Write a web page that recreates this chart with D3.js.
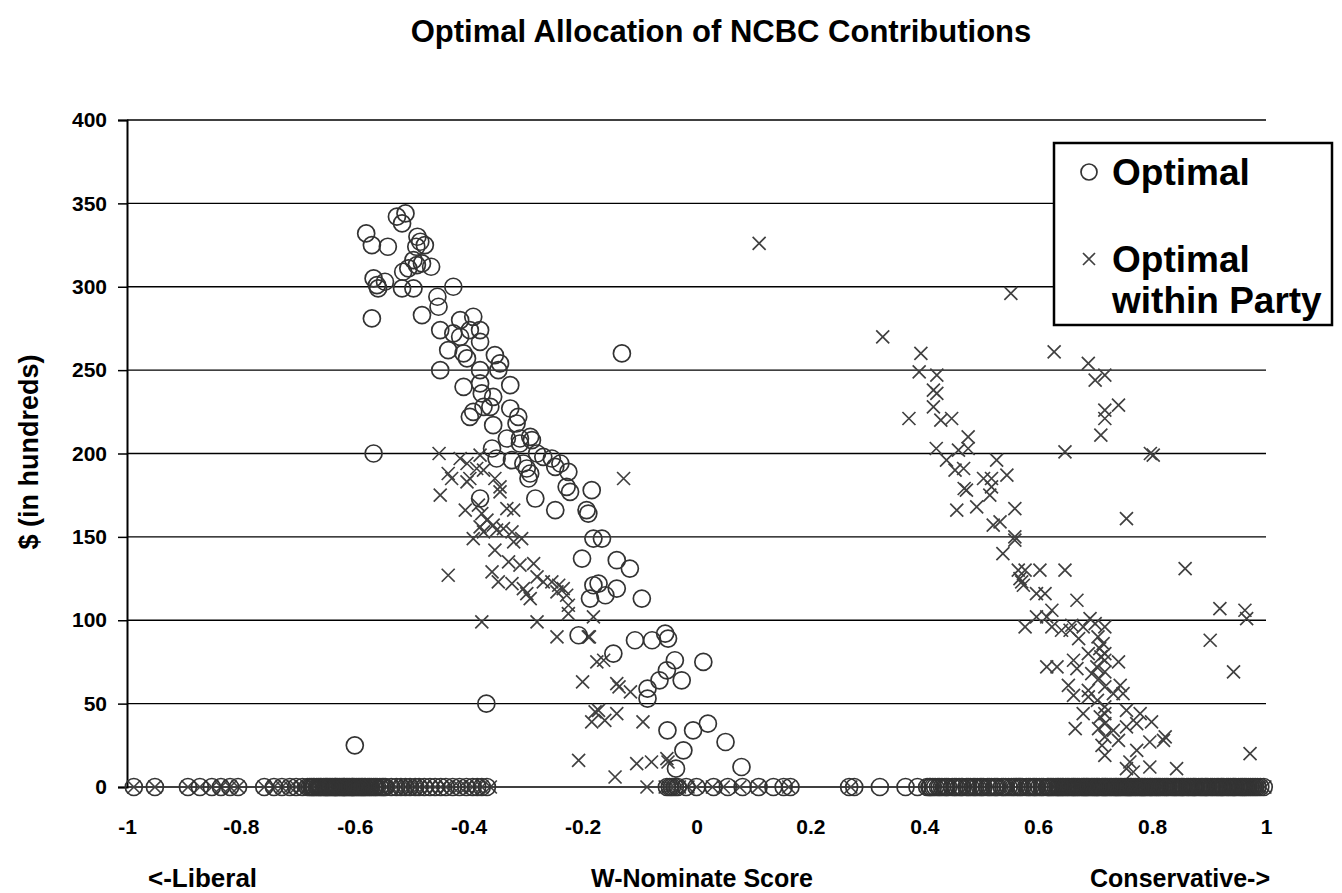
<!DOCTYPE html>
<meta charset="utf-8">
<style>
body { margin: 0; background: #fff; }
text { font-family: Arial, "Liberation Sans", sans-serif; font-weight: bold; fill: #000; }
.grid line { stroke: #000; stroke-width: 1.3; }
.opt { fill: none; stroke: #333; stroke-width: 1.7; }
.within { fill: none; stroke: #404040; stroke-width: 1.7; }
</style>
<body>
<script src="https://d3js.org/d3.v7.min.js"></script>
<script>

// tick values / labels
var xTicks = [-1, -0.8, -0.6, -0.4, -0.2, 0, 0.2, 0.4, 0.6, 0.8, 1];
var xTickLabels = ["-1", "-0.8", "-0.6", "-0.4", "-0.2", "0", "0.2", "0.4", "0.6", "0.8", "1"];
var yTicks = [0, 50, 100, 150, 200, 250, 300, 350, 400];

// Optimal allocation, members that get money (W-Nominate, $00)
var optX = [-0.526,-0.511,-0.517,-0.580,-0.570,-0.542,-0.490,-0.492,-0.477,-0.485,-0.466,-0.491,-0.497,-0.482,-0.515,-0.506,
  -0.567,-0.547,-0.559,-0.561,-0.517,-0.497,-0.427,-0.570,-0.455,-0.453,-0.482,-0.450,-0.415,-0.392,-0.427,-0.398,-0.380,
  -0.380,-0.415,-0.436,-0.409,-0.403,-0.450,-0.354,-0.345,-0.348,-0.380,-0.409,-0.380,-0.327,-0.377,-0.357,-0.374,-0.362,
  -0.392,-0.398,-0.327,-0.313,-0.357,-0.310,-0.292,
  -0.567,-0.333,-0.316,-0.310,-0.289,-0.359,-0.351,-0.324,-0.304,-0.298,-0.292,-0.295,-0.280,-0.269,-0.254,-0.239,-0.248,
  -0.225,-0.228,-0.222,-0.283,-0.184,-0.248,-0.193,-0.190,-0.181,-0.166,-0.380,-0.201,-0.140,-0.117,-0.181,-0.172,-0.187,
  -0.160,-0.140,-0.096,-0.207,-0.146,-0.108,-0.078,-0.055,-0.050,
  -0.038,0.012,-0.052,-0.065,-0.026,-0.086,-0.086,-0.051,-0.006,0.020,0.051,-0.023,0.079,-0.036,
  -0.131,-0.369,-0.600];
var optY = [342,344,338,332,325,324,330,324,325,327,312,313,316,314,309,311,
  305,303,299,301,299,299,300,281,294,288,283,274,280,282,272,274,274,
  267,270,262,260,257,250,259,254,250,250,240,242,241,236,234,228,228,
  225,222,227,222,217,209,210,
  200,209,218,206,208,203,197,196,194,191,188,185,200,198,197,194,192,
  189,180,177,173,178,166,166,164,149,149,173,137,136,131,121,122,113,
  115,119,113,91,80,88,88,92,89,
  76,75,70,64,64,59,53,34,34,38,27,22,12,11,
  260,50,25];

// Optimal allocation, members that get nothing
var optZeroX = [-0.988,-0.951,-0.893,-0.872,-0.851,-0.835,-0.819,-0.805,-0.759,-0.742,-0.728,-0.714,-0.703,-0.692,
  -0.683,-0.679,-0.676,-0.673,-0.671,-0.667,-0.664,-0.661,-0.659,-0.655,-0.652,-0.650,-0.648,-0.645,-0.642,-0.639,
  -0.636,-0.634,-0.633,-0.630,-0.627,-0.624,-0.621,-0.619,-0.618,-0.615,-0.612,-0.609,-0.606,-0.604,-0.603,-0.600,
  -0.597,-0.594,-0.591,-0.588,-0.586,-0.583,-0.581,-0.577,-0.574,-0.571,-0.567,-0.564,-0.561,-0.556,-0.552,-0.549,
  -0.546,-0.536,-0.527,-0.519,-0.511,-0.503,-0.494,-0.487,
  -0.478,-0.468,-0.459,-0.449,-0.440,-0.428,-0.416,-0.404,-0.393,-0.385,-0.377,-0.368,
  -0.052,-0.047,-0.043,-0.038,-0.033,-0.018,0.000,0.030,0.055,0.081,0.109,0.135,0.153,0.165,0.268,0.277,0.322,
  0.367,0.388,0.405,0.409,0.411,0.415,0.419,0.424,0.427,0.431,0.436,0.439,0.442,0.449,0.453,0.456,0.461,0.465,
  0.467,0.474,0.477,0.481,0.486,0.489,0.493,0.498,0.501,0.504,0.511,0.514,0.518,0.523,0.526,0.529,0.536,0.539,
  0.543,0.548,0.553,0.557,0.561,0.566,0.569,0.572,0.579,0.583,0.586,0.591,0.594,0.597,0.602,0.606,0.609,
  0.616,0.618,0.621,0.624,0.627,0.631,0.634,0.636,0.639,0.642,0.644,0.648,0.651,0.654,0.658,0.661,0.663,0.666,
  0.669,0.672,0.676,0.679,0.681,0.684,0.686,0.689,0.693,0.696,0.699,0.702,0.704,0.707,0.712,0.714,0.717,0.719,
  0.722,0.726,0.729,0.733,0.736,0.738,0.741,0.744,0.747,0.751,0.754,0.757,0.759,0.762,0.764,0.768,0.771,0.774,
  0.778,0.781,0.783,0.786,0.788,0.792,0.796,0.798,0.801,0.805,0.808,0.811,0.814,0.818,0.822,0.825,0.828,0.833,
  0.837,0.840,0.843,0.847,0.851,0.853,0.856,0.861,0.864,0.868,0.872,0.874,0.877,0.882,0.886,0.889,0.893,0.895,
  0.898,0.903,0.906,0.910,0.914,0.917,0.921,0.923,0.926,0.931,0.934,0.938,0.942,0.944,0.947,0.952,0.956,0.959,
  0.962,0.965,0.969,0.973,0.977,0.981,0.985,0.990,0.996];

// Optimal within party, members that get money
var withinX = [-0.452,-0.415,-0.380,-0.403,-0.386,-0.374,-0.436,-0.430,-0.403,-0.398,-0.354,-0.345,-0.345,-0.450,
  -0.406,-0.383,-0.333,-0.321,-0.377,-0.368,-0.357,-0.380,-0.374,-0.351,-0.339,-0.324,-0.392,-0.321,-0.307,-0.354,
  -0.330,-0.310,-0.286,-0.436,-0.359,-0.348,-0.324,-0.304,-0.298,-0.292,-0.280,-0.269,-0.254,-0.242,-0.234,-0.245,
  -0.228,-0.225,-0.225,-0.377,-0.280,-0.181,-0.245,-0.190,-0.175,-0.163,-0.140,-0.128,
  -0.188,-0.200,-0.136,-0.116,-0.178,-0.172,-0.184,-0.161,-0.140,-0.094,-0.207,-0.143,-0.105,-0.079,-0.052,-0.050,
  0.110,
  0.552,0.327,0.394,0.628,0.391,0.422,0.688,0.700,0.717,0.416,0.422,0.416,0.373,0.429,0.448,0.741,0.717,0.717,0.710,
  0.477,0.421,0.460,0.477,0.439,0.647,0.802,0.797,0.527,0.454,0.469,0.545,0.504,0.518,0.474,0.470,0.518,0.515,0.755,
  0.457,0.492,0.559,0.521,0.533,0.559,0.559,0.538,0.565,0.577,0.603,0.647,0.858,0.571,0.574,0.568,0.597,0.612,0.668,
  0.919,0.963,0.966,0.624,0.597,0.615,0.691,0.577,0.624,0.641,0.659,0.656,0.679,0.717,0.671,0.714,0.902,0.688,0.717,
  0.717,0.741,0.615,0.633,0.662,0.668,0.694,0.717,0.943,0.653,0.688,0.717,0.744,0.662,0.688,0.732,0.749,0.717,0.717,
  0.755,0.679,0.779,0.665,0.717,0.773,0.799,0.732,0.755,0.823,0.820,0.717,0.741,0.796,0.972,0.717,0.773,0.761,0.755,
  0.796,0.843,0.767,
  0.705,0.708,0.703,0.707,0.704,0.709,0.706,0.712,0.700,0.710];
var withinY = [200,197,199,194,191,190,188,185,183,185,185,180,177,175,
  166,169,167,166,164,160,157,156,153,154,155,153,149,147,149,142,
  135,133,134,127,129,123,122,119,116,113,126,123,123,121,119,117,
  115,109,104,99,99,102,90,90,75,76,62,185,
  90,63,60,57,45,46,39,40,44,39,16,6,14,15,17,15,
  326,
  296,270,260,261,249,247,254,244,247,238,236,228,221,220,221,229,226,221,211,
  210,203,202,203,196,201,199,200,196,190,191,187,185,185,178,179,180,175,161,
  166,168,167,157,159,150,148,140,130,130,130,130,131,123,121,125,116,116,112,
  107,106,101,106,102,102,101,96,96,94,97,94,96,96,89,86,88,80,80,
  76,75,72,72,76,71,68,69,69,61,58,60,61,55,54,56,56,48,44,
  46,44,44,35,38,38,39,34,36,30,28,30,28,27,20,19,22,15,11,
  12,11,9,
  90,83,72,65,52,42,35,25,98,78];

// Optimal within party, members that get nothing
var withinZeroX = [-0.988,-0.951,-0.893,-0.872,-0.851,-0.835,-0.819,-0.805,-0.759,-0.742,-0.728,-0.714,-0.703,-0.692,
  -0.683,-0.677,-0.671,-0.666,-0.659,-0.654,-0.648,-0.644,-0.636,-0.631,-0.627,-0.622,-0.618,-0.613,-0.606,-0.601,
  -0.597,-0.593,-0.586,-0.582,-0.574,-0.569,-0.561,-0.555,-0.546,-0.536,-0.527,-0.519,-0.511,-0.503,-0.494,-0.487,
  -0.478,-0.468,-0.459,-0.449,-0.440,-0.428,-0.416,-0.404,-0.393,-0.385,-0.377,-0.362,
  -0.087,-0.055,-0.050,-0.045,-0.040,-0.030,-0.015,0.000,0.028,0.047,0.076,0.108,0.162,0.271,
  0.634,0.637,0.639,0.643,0.645,0.648,0.651,0.654,0.657,0.660,0.662,0.666,0.669,0.672,0.675,0.678,0.681,0.684,
  0.687,0.690,0.693,0.696,0.698,0.701,0.704,0.708,0.711,0.713,0.716,0.720,0.723,0.726,0.729,0.732,0.735,0.738,
  0.741,0.744,0.746,0.750,0.753,0.756,0.759,0.762,0.766,0.768,0.771,0.774,0.777,0.781,0.784,0.787,0.789,0.792,
  0.795,0.799,0.802,0.806,0.809,0.811,0.814,0.818,0.821,0.825,0.829,0.832,0.836,0.839,0.842,0.846,0.849,0.853,
  0.857,0.860,0.863,0.867,0.871,0.874,0.878,0.881,0.884,0.888,0.891,0.895,0.899,0.902,0.906,0.909,0.912,0.916,
  0.919,0.923,0.927,0.930,0.933,0.937,0.941,0.944,0.948,0.951,0.955,0.958,0.961,0.965,0.968,0.972,0.976,0.979,
  0.983,0.987,0.991,0.998];

var width = 1342, height = 893;
var plot = {left: 127, right: 1266, top: 120, bottom: 787};

var x = d3.scaleLinear().domain([-1, 1]).range([plot.left, plot.right]);
var y = d3.scaleLinear().domain([0, 400]).range([plot.bottom, plot.top]);

var svg = d3.select("body").append("svg")
    .attr("width", width)
    .attr("height", height);

// horizontal gridlines
svg.append("g")
    .attr("class", "grid")
  .selectAll("line")
    .data(yTicks)
  .enter().append("line")
    .attr("x1", plot.left)
    .attr("x2", plot.right)
    .attr("y1", function(d) { return y(d); })
    .attr("y2", function(d) { return y(d); });

// y axis
var yAxis = svg.append("g")
    .attr("transform", "translate(" + plot.left + ",0)")
    .call(d3.axisLeft(y).tickValues(yTicks).tickSize(9).tickPadding(11));
yAxis.select(".domain").attr("stroke", "#000").attr("stroke-width", 2);
yAxis.selectAll(".tick line").attr("stroke", "#000").attr("stroke-width", 1.5);
yAxis.selectAll(".tick text")
    .style("font-size", "21px")
    .style("font-family", "Arial, 'Liberation Sans', sans-serif")
    .style("font-weight", "bold")
    .attr("fill", "#000");

// x axis labels only (no ticks in the original)
var xAxis = svg.append("g")
    .attr("transform", "translate(0," + plot.bottom + ")")
    .call(d3.axisBottom(x).tickValues(xTicks).tickSize(0).tickPadding(32)
      .tickFormat(function(d, i) { return xTickLabels[i]; }));
xAxis.select(".domain").remove();
xAxis.selectAll(".tick text")
    .style("font-size", "21px")
    .style("font-family", "Arial, 'Liberation Sans', sans-serif")
    .style("font-weight", "bold")
    .attr("fill", "#000");

// crosses first, circles on top
var cross = 6.5;
function drawCrosses(xs, ys) {
  svg.append("g").selectAll("path")
      .data(xs)
    .enter().append("path")
      .attr("class", "within")
      .attr("d", function(d, i) {
        var cx = x(d), cy = y(ys[i]);
        return "M" + (cx - cross) + "," + (cy - cross) + "L" + (cx + cross) + "," + (cy + cross) +
               "M" + (cx - cross) + "," + (cy + cross) + "L" + (cx + cross) + "," + (cy - cross);
      });
}
function drawCircles(xs, ys) {
  svg.append("g").selectAll("circle")
      .data(xs)
    .enter().append("circle")
      .attr("class", "opt")
      .attr("r", 8.5)
      .attr("cx", function(d) { return x(d); })
      .attr("cy", function(d, i) { return y(ys[i]); });
}

drawCrosses(withinX, withinY);
drawCrosses(withinZeroX, withinZeroX.map(function() { return 0; }));
drawCircles(optX, optY);
drawCircles(optZeroX, optZeroX.map(function() { return 0; }));

// title
svg.append("text")
    .attr("x", 721)
    .attr("y", 42)
    .attr("text-anchor", "middle")
    .style("font-size", "31px")
    .text("Optimal Allocation of NCBC Contributions");

// y label
svg.append("text")
    .attr("transform", "translate(38,452) rotate(-90)")
    .attr("text-anchor", "middle")
    .style("font-size", "27px")
    .text("$ (in hundreds)");

// bottom labels
svg.append("text").attr("x", 148).attr("y", 887).style("font-size", "26px").text("<-Liberal");
svg.append("text").attr("x", 702).attr("y", 887).attr("text-anchor", "middle").style("font-size", "25px").text("W-Nominate Score");
svg.append("text").attr("x", 1270).attr("y", 887).attr("text-anchor", "end").style("font-size", "25px").text("Conservative->");

// legend
var legend = svg.append("g");
legend.append("rect")
    .attr("x", 1054).attr("y", 143)
    .attr("width", 278).attr("height", 182)
    .attr("fill", "#fff").attr("stroke", "#000").attr("stroke-width", 2.5);
legend.append("circle")
    .attr("class", "opt").attr("cx", 1089).attr("cy", 172).attr("r", 8);
legend.append("path")
    .attr("class", "within")
    .attr("d", "M1083,253L1095,265M1083,265L1095,253");
legend.append("text").attr("x", 1112).attr("y", 185).style("font-size", "37px").text("Optimal");
legend.append("text").attr("x", 1112).attr("y", 272).style("font-size", "37px").text("Optimal");
legend.append("text").attr("x", 1112).attr("y", 313).style("font-size", "37px").text("within Party");

</script>
</body>
